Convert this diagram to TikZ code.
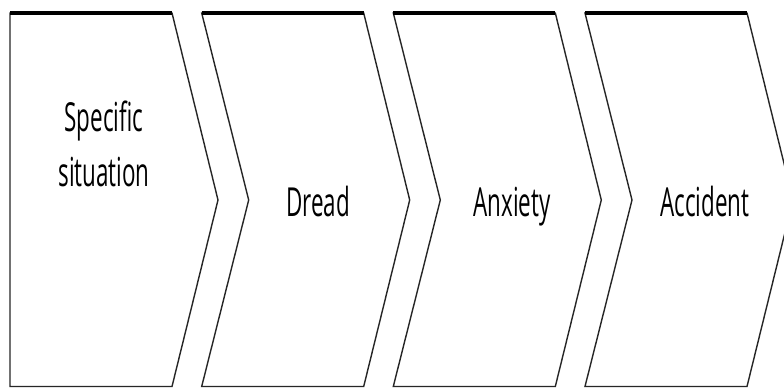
\documentclass[tikz,border=0pt]{standalone}
\usepackage{fontspec}
\setmainfont{Open Sans}[FakeStretch=0.56]
\begin{document}
\begin{tikzpicture}[x=1pt,y=1pt,
  edge/.style={draw=black!85,line width=1.4pt,fill=white,line join=miter},
  topedge/.style={draw=black,line width=3.4pt},
  label/.style={font=\fontsize{40}{55}\selectfont,text=black,anchor=base,align=center,inner sep=0pt}]
\useasboundingbox (0,0) rectangle (784,388);
\fill[white] (0,0) rectangle (784,388);
% shape 1 (pentagon)
\path[edge] (10,375) -- (172,375) -- (218,188) -- (172,1.5) -- (10,1.5) -- cycle;
\draw[topedge] (10,375) -- (172,375);
% chevrons
\foreach \L in {201.7,393.3,585}{
  \path[edge] (\L,375) -- (\L+162,375) -- (\L+208,188) -- (\L+162,1.5) -- (\L,1.5) -- (\L+47,188) -- cycle;
  \draw[topedge] (\L,375) -- (\L+162,375);
}
\node[label] (s1) at (104,201) {Specific\\situation};
\node[label] (s2) at (318,171) {Dread};
\node[label] (s3) at (512,171) {Anxiety};
\node[label] (s4) at (705,171) {Accident};
\end{tikzpicture}
\end{document}
